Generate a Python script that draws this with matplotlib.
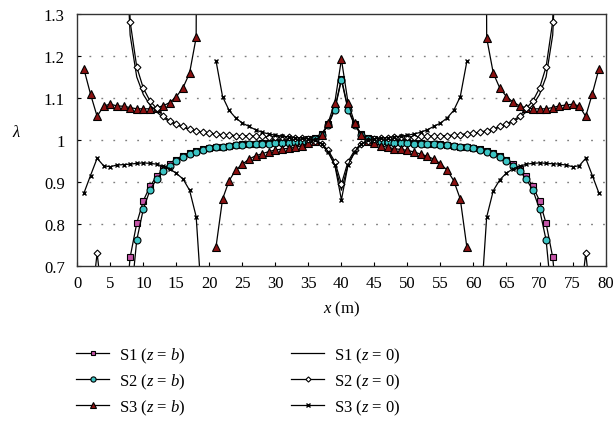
import numpy as np
import matplotlib
matplotlib.use("Agg")
from matplotlib import pyplot as plt

plt.rcParams['font.family'] = ['Liberation Serif', 'DejaVu Serif']
plt.rcParams['mathtext.fontset'] = 'custom'
plt.rcParams['mathtext.rm'] = 'Liberation Serif'
plt.rcParams['mathtext.it'] = 'Liberation Serif:italic'

nan = np.nan
#positions along the span (m)
x = list(range(1, 80))

#S1 (z = b) - squares
s1_b = [0.30, 0.40, 0.45, 0.45, 0.42, 0.35, 0.55, 0.720, 0.801, 0.855,
        0.889, 0.913, 0.930, 0.943, 0.953, 0.961, 0.968, 0.973, 0.977, 0.980,
        0.982, 0.984, 0.986, 0.988, 0.989, 0.990, 0.991, 0.992, 0.993, 0.994,
        0.994, 0.995, 0.996, 0.998, 1.001, 1.005, 1.014, 1.037, 1.075, 1.146,
        1.075, 1.037, 1.014, 1.005, 1.001, 0.998, 0.996, 0.995, 0.994, 0.994,
        0.993, 0.992, 0.991, 0.990, 0.989, 0.988, 0.986, 0.984, 0.982, 0.980,
        0.977, 0.973, 0.968, 0.961, 0.953, 0.943, 0.930, 0.913, 0.889, 0.855,
        0.801, 0.720, 0.55, 0.35, 0.42, 0.45, 0.45, 0.40, 0.30]
#S2 (z = b) - circles
s2_b = [0.20, 0.30, 0.35, 0.35, 0.32, 0.25, 0.40, 0.600, 0.761, 0.835,
        0.880, 0.906, 0.926, 0.938, 0.949, 0.958, 0.966, 0.972, 0.976, 0.980,
        0.982, 0.984, 0.986, 0.987, 0.988, 0.989, 0.990, 0.991, 0.991, 0.992,
        0.993, 0.993, 0.994, 0.996, 0.999, 1.003, 1.012, 1.035, 1.072, 1.143,
        1.072, 1.035, 1.012, 1.003, 0.999, 0.996, 0.994, 0.993, 0.993, 0.992,
        0.991, 0.991, 0.990, 0.989, 0.988, 0.987, 0.986, 0.984, 0.982, 0.980,
        0.976, 0.972, 0.966, 0.958, 0.949, 0.938, 0.926, 0.906, 0.880, 0.835,
        0.761, 0.600, 0.40, 0.25, 0.32, 0.35, 0.35, 0.30, 0.20]
#S3 (z = b) - triangles
s3_b = [1.169, 1.109, 1.056, 1.081, 1.085, 1.081, 1.080, 1.077, 1.074, 1.074,
        1.074, 1.077, 1.081, 1.089, 1.103, 1.124, 1.159, 1.244, 6.0, nan,
        0.744, 0.859, 0.903, 0.928, 0.942, 0.954, 0.962, 0.967, 0.972, 0.976,
        0.978, 0.980, 0.982, 0.986, 0.992, 0.998, 1.011, 1.041, 1.089, 1.192,
        1.089, 1.041, 1.011, 0.998, 0.992, 0.986, 0.982, 0.979, 0.977, 0.975,
        0.971, 0.966, 0.961, 0.954, 0.943, 0.928, 0.903, 0.859, 0.744, nan,
        6.0, 1.243, 1.159, 1.123, 1.103, 1.090, 1.081, 1.076, 1.074, 1.074,
        1.074, 1.077, 1.081, 1.083, 1.085, 1.081, 1.056, 1.110, 1.169]
#S1 (z = 0) - plain line
s1_0 = [0.20, 0.50, 0.66, 0.50, 0.20, nan, 1.60, 1.250, 1.150, 1.108,
        1.083, 1.067, 1.053, 1.043, 1.036, 1.030, 1.025, 1.021, 1.018, 1.016,
        1.014, 1.012, 1.011, 1.010, 1.009, 1.009, 1.008, 1.008, 1.007, 1.007,
        1.006, 1.006, 1.005, 1.004, 1.002, 0.997, 0.989, 0.970, 0.940, 0.880,
        0.940, 0.970, 0.989, 0.997, 1.002, 1.004, 1.005, 1.006, 1.006, 1.007,
        1.007, 1.008, 1.008, 1.009, 1.009, 1.010, 1.011, 1.012, 1.014, 1.016,
        1.018, 1.021, 1.025, 1.030, 1.036, 1.043, 1.053, 1.067, 1.083, 1.108,
        1.150, 1.250, 1.60, nan, 0.20, 0.50, 0.66, 0.50, 0.20]
#S2 (z = 0) - diamonds
s2_0 = [0.30, 0.59, 0.730, 0.59, 0.30, nan, 1.90, 1.282, 1.174, 1.123,
        1.093, 1.075, 1.057, 1.046, 1.038, 1.032, 1.026, 1.022, 1.018, 1.016,
        1.014, 1.012, 1.011, 1.010, 1.010, 1.009, 1.008, 1.008, 1.007, 1.007,
        1.006, 1.006, 1.005, 1.004, 1.002, 0.998, 0.991, 0.975, 0.948, 0.895,
        0.948, 0.975, 0.991, 0.998, 1.002, 1.004, 1.005, 1.006, 1.006, 1.007,
        1.007, 1.008, 1.008, 1.009, 1.010, 1.010, 1.011, 1.012, 1.014, 1.016,
        1.018, 1.022, 1.026, 1.032, 1.038, 1.046, 1.057, 1.075, 1.093, 1.123,
        1.174, 1.282, 1.90, nan, 0.30, 0.59, 0.730, 0.59, 0.30]
#S3 (z = 0) - crosses
s3_0 = [0.873, 0.915, 0.956, 0.938, 0.936, 0.940, 0.941, 0.942, 0.944, 0.945,
        0.944, 0.942, 0.937, 0.931, 0.920, 0.907, 0.880, 0.817, 0.58, nan,
        1.189, 1.103, 1.070, 1.052, 1.040, 1.032, 1.024, 1.018, 1.014, 1.011,
        1.009, 1.007, 1.005, 1.004, 1.002, 0.999, 0.990, 0.972, 0.940, 0.857,
        0.940, 0.972, 0.990, 0.999, 1.002, 1.004, 1.005, 1.007, 1.009, 1.011,
        1.014, 1.018, 1.024, 1.032, 1.040, 1.052, 1.070, 1.103, 1.187, nan,
        0.58, 0.816, 0.879, 0.905, 0.921, 0.931, 0.937, 0.942, 0.944, 0.945,
        0.944, 0.943, 0.942, 0.940, 0.936, 0.938, 0.956, 0.915, 0.873]

xticks = list(range(0, 81, 5))
yticks = [0.7, 0.8, 0.9, 1.0, 1.1, 1.2, 1.3]
ytick_labels = ["0.7", "0.8", "0.9", "1", "1.1", "1.2", "1.3"]

fig = plt.figure(figsize=(6.16, 4.31), dpi=100)
ax = fig.add_axes([0.1255, 0.3812, 0.8575, 0.584])

#dotted horizontal grid
for yv in yticks[1:-1]:
    ax.axhline(yv, color='#808080', lw=1.0, dashes=(1.3, 7.3), zorder=0)

lw = 0.9
ax.plot(x, s1_b, '-', color='black', lw=lw, marker='s', ms=4.5,
        mfc='#C455A8', mec='black', mew=0.8, label="S1 ($z$ = $b$)")
ax.plot(x, s2_b, '-', color='black', lw=lw, marker='o', ms=5,
        mfc='#3CC4C4', mec='black', mew=0.8, label="S2 ($z$ = $b$)")
ax.plot(x, s3_b, '-', color='black', lw=lw, marker='^', ms=6,
        mfc='#8B1111', mec='black', mew=0.8, label="S3 ($z$ = $b$)")
ax.plot(x, s1_0, '-', color='black', lw=lw, label="S1 ($z$ = 0)")
ax.plot(x, s2_0, '-', color='black', lw=lw, marker='D', ms=3.5,
        mfc='white', mec='black', mew=0.8, label="S2 ($z$ = 0)")
ax.plot(x, s3_0, '-', color='black', lw=lw, marker='x', ms=3,
        mec='black', mew=1.0, label="S3 ($z$ = 0)")

ax.set_xlim(0, 80)
ax.set_ylim(0.7, 1.3)
ax.set_xticks(xticks)
ax.set_yticks(yticks)
ax.set_yticklabels(ytick_labels)
ax.tick_params(direction='in', length=3, labelsize=12)
ax.tick_params(axis='x', pad=7)
ax.tick_params(axis='y', pad=9)
for sp in ax.spines.values():
    sp.set_color('#333333')
    sp.set_linewidth(1.0)

ax.set_xlabel("$x$ (m)", fontsize=12, labelpad=5)
ax.set_ylabel("$\\lambda$", fontsize=12, rotation=0)
ax.yaxis.set_label_coords(-0.114, 0.5)

fig.legend(loc='upper left', bbox_to_anchor=(0.110, 0.215), ncol=2,
           frameon=False, fontsize=12, handlelength=2.0, handletextpad=0.6,
           columnspacing=6.3, labelspacing=0.4, borderpad=0, markerscale=0.75)

plt.savefig("out.png", dpi=100)
